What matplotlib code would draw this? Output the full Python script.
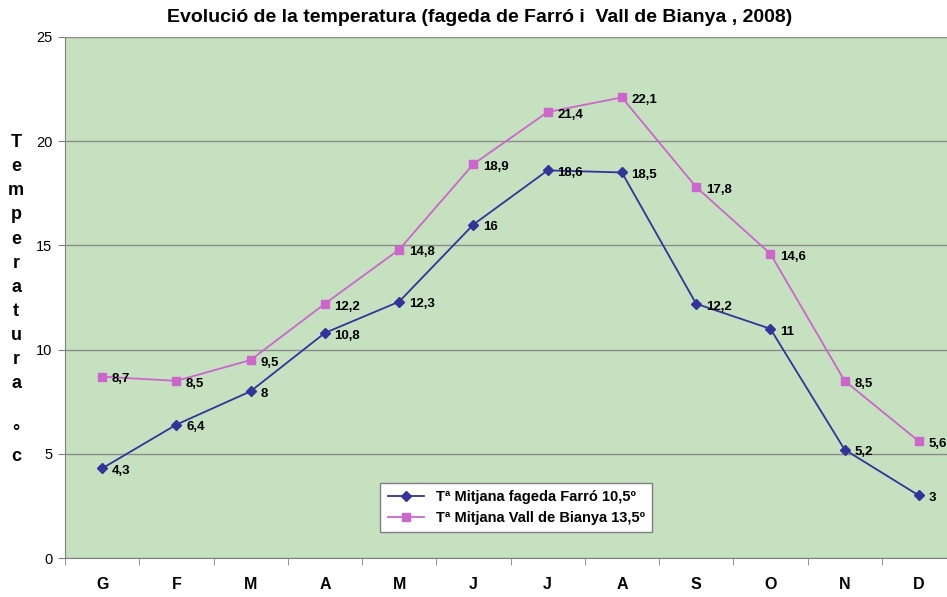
import numpy as np
import matplotlib.pyplot as plt

# month initials (Catalan)
months = ['G', 'F', 'M', 'A', 'M', 'J', 'J', 'A', 'S', 'O', 'N', 'D']
farro = [4.3, 6.4, 8, 10.8, 12.3, 16, 18.6, 18.5, 12.2, 11, 5.2, 3]
bianya = [8.7, 8.5, 9.5, 12.2, 14.8, 18.9, 21.4, 22.1, 17.8, 14.6, 8.5, 5.6]
label_farro = 'Tª Mitjana fageda Farró 10,5º'
label_bianya = 'Tª Mitjana Vall de Bianya 13,5º'

plt.rcParams['font.family'] = ['Liberation Sans', 'DejaVu Sans']

fig = plt.figure(figsize=(9.47, 5.97), dpi=100)
ax = fig.add_axes([65 / 947, 39 / 597, 891 / 947, 521 / 597])
ax.set_facecolor('#c5e1c0')

x = np.arange(len(months))
ax.plot(x, farro, color='#333399', marker='D', markersize=5, lw=1.3,
        label=label_farro)
ax.plot(x, bianya, color='#cc66cc', marker='s', markersize=6, lw=1.3,
        label=label_bianya)


def fmt(v):
    return ('%g' % v).replace('.', ',')


for xi, v in zip(x, farro):
    ax.annotate(fmt(v), (xi, v), xytext=(7, -2), textcoords='offset points',
                va='center', ha='left', fontsize=9.5, fontweight='bold')
for xi, v in zip(x, bianya):
    ax.annotate(fmt(v), (xi, v), xytext=(7, -2), textcoords='offset points',
                va='center', ha='left', fontsize=9.5, fontweight='bold')

ax.set_xlim(-0.5, len(months) - 0.5)
ax.set_ylim(0, 25)
ax.set_yticks([0, 5, 10, 15, 20, 25])
ax.yaxis.grid(True, color='#8c8c8c', lw=1)
ax.set_axisbelow(True)

ax.set_xticks(x)
ax.set_xticklabels(months, fontsize=11.5, fontweight='bold')
ax.set_xticks(np.arange(-0.5, len(months), 1), minor=True)
ax.tick_params(axis='x', which='major', length=0, pad=14)
ax.tick_params(axis='x', which='minor', length=5, color='#808080')
ax.tick_params(axis='y', length=5, color='#808080', labelsize=10.5, pad=4)

for side in ['top', 'right']:
    ax.spines[side].set_visible(False)
for side in ['left', 'bottom']:
    ax.spines[side].set_color('#808080')

fig.text(480 / 947, 1 - 18 / 597,
         'Evolució de la temperatura (fageda de Farró i  Vall de Bianya , 2008)',
         ha='center', va='center', fontsize=14, fontweight='bold')

fig.text(16 / 947, 1 - 134 / 597, 'T\ne\nm\np\ne\nr\na\nt\nu\nr\na\n\n°\nc',
         ha='center', va='top', fontsize=13, fontweight='bold', linespacing=1.55)

leg = ax.legend(loc='lower left', bbox_to_anchor=(0.354, 0.05),
                borderaxespad=0,
                prop={'weight': 'bold', 'size': 10.5}, fancybox=False,
                framealpha=1, edgecolor='#808080', handlelength=2.5,
                borderpad=0.5, labelspacing=0.45)

fig.savefig('out.png', dpi=100)
